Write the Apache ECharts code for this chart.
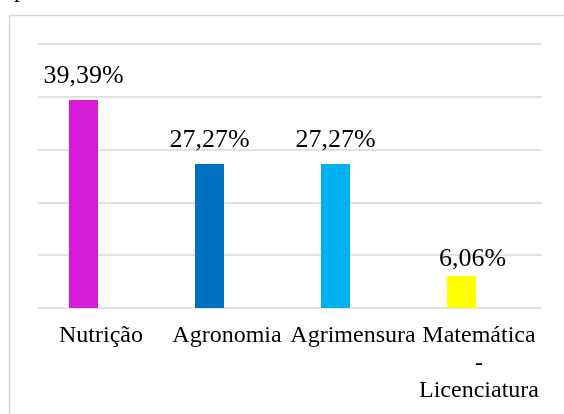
<!DOCTYPE html>
<html>
<head>
    <meta charset="utf-8">
    <title>ECharts</title>
    <style>
        html, body { margin: 0; padding: 0; background: #fff; }
        #main { width: 564px; height: 414px; }
    </style>
</head>
<body>
<div id="main"></div>
<script src="https://cdn.jsdelivr.net/npm/echarts@6/dist/echarts.min.js"></script>
<script type="text/javascript">
    // dados
    var cursos = ['Nutrição', 'Agronomia', 'Agrimensura', 'Matemática\n-\nLicenciatura'];
    var percentuais = [39.39, 27.27, 27.27, 6.06];
    var cores = ['#D41CD5', '#0070C0', '#00B0F0', '#FFFF00'];
    var eixoY = { min: 0, max: 50, interval: 10 };

    var fonte = 'Liberation Serif, Times New Roman, serif';

    var myChart = echarts.init(document.getElementById('main'));

    myChart.setOption({
        animation: false,
        title: {
            text: 'p',
            left: 14,
            top: -21,
            padding: 0,
            textStyle: { fontFamily: fonte, fontSize: 24, fontWeight: 'normal', color: '#000' }
        },
        graphic: [{
            type: 'rect',
            shape: { x: 9.5, y: 15.5, width: 600, height: 450 },
            style: { fill: 'none', stroke: '#d9d9d9', lineWidth: 1.5 },
            silent: true
        }],
        grid: { left: 38, right: 22, top: 44, bottom: 106 },
        xAxis: {
            type: 'category',
            data: cursos,
            axisLine: { show: false },
            axisTick: { show: false },
            axisLabel: {
                interval: 0,
                margin: 14,
                fontFamily: fonte,
                fontSize: 24,
                lineHeight: 27.5,
                color: '#000'
            }
        },
        yAxis: {
            type: 'value',
            min: eixoY.min,
            max: eixoY.max,
            interval: eixoY.interval,
            axisLine: { show: false },
            axisTick: { show: false },
            axisLabel: { show: false },
            splitLine: { lineStyle: { color: '#d9d9d9', width: 1.5 } }
        },
        series: [{
            type: 'bar',
            barWidth: 29,
            barGap: '20.7%',
            data: percentuais.map(function (v, i) {
                var item = { value: v, itemStyle: { color: cores[i] } };
                if (i === 3) {
                    item.label = { offset: [11, 7] };
                }
                return item;
            }),
            label: {
                show: true,
                position: 'top',
                distance: 11,
                fontFamily: fonte,
                fontSize: 26,
                color: '#000',
                formatter: function (p) {
                    return p.value.toFixed(2).replace('.', ',') + '%';
                }
            }
        }, {
            // série vazia que ocupa o segundo lugar em cada grupo
            type: 'bar',
            barWidth: 29,
            data: []
        }]
    });
</script>
</body>
</html>
